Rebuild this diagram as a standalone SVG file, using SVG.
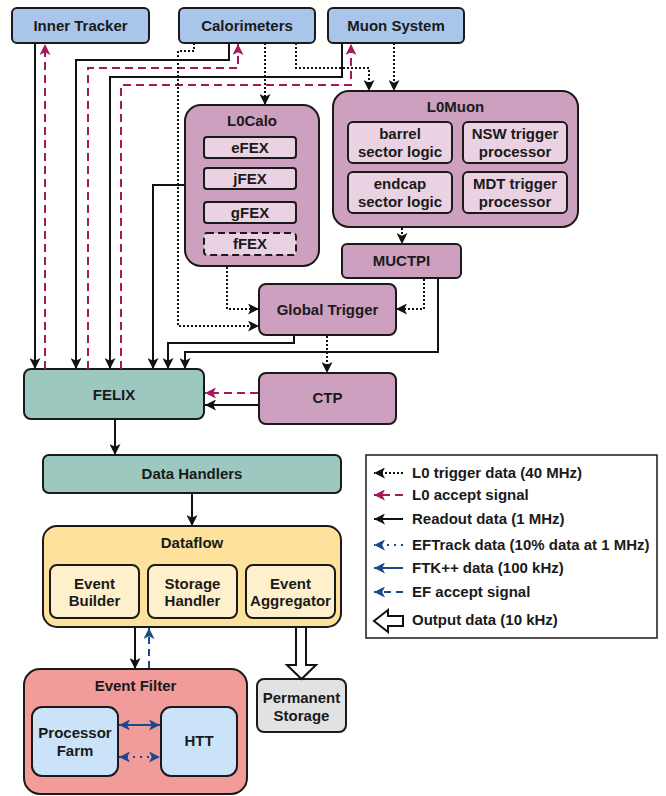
<svg xmlns="http://www.w3.org/2000/svg" width="666" height="796" viewBox="0 0 666 796">
<defs>
<style>
text{font-family:"Liberation Sans",Arial,sans-serif;font-weight:bold;font-size:15px;fill:#1a1a1a;text-anchor:middle}
.lg text{text-anchor:start}
.box{stroke:#1a1a1a;stroke-width:2}
.det{fill:#a9c5ea}
.pur{fill:#cda0c0}
.sub{fill:#ead2e2}
.teal{fill:#9cc8c0}
.yel{fill:#fee29c}
.ysub{fill:#fff0cc}
.red{fill:#f29b9b}
.lb{fill:#cae3f9}
.gray{fill:#e2e2e2}
.c{fill:none;stroke-width:2}
.k{stroke:#111}
.dot{stroke-dasharray:2 2}
.acc{stroke:#a3195b;stroke-dasharray:8 5}
.bl{stroke:#1b4a8a}
.bdot{stroke:#1b4a8a;stroke-dasharray:2 5}
.bdash{stroke:#1b4a8a;stroke-dasharray:7 5}
</style>
<marker id="ak" viewBox="0 0 10 10" refX="10" refY="5" markerWidth="11" markerHeight="11" markerUnits="userSpaceOnUse" orient="auto-start-reverse"><path d="M0,0 L10,5 L0,10 L2.5,5 Z" fill="#111"/></marker>
<marker id="ar" viewBox="0 0 10 10" refX="10" refY="5" markerWidth="11" markerHeight="11" markerUnits="userSpaceOnUse" orient="auto-start-reverse"><path d="M0,0 L10,5 L0,10 L2.5,5 Z" fill="#a3195b"/></marker>
<marker id="ab" viewBox="0 0 10 10" refX="10" refY="5" markerWidth="11" markerHeight="11" markerUnits="userSpaceOnUse" orient="auto-start-reverse"><path d="M0,0 L10,5 L0,10 L2.5,5 Z" fill="#1b4a8a"/></marker>
</defs>
<rect width="666" height="796" fill="#fff"/>

<g id="inner-tracker"><rect class="box det" x="12" y="8" width="137" height="35" rx="5"/><text x="80.5" y="31">Inner Tracker</text></g>
<g id="calorimeters"><rect class="box det" x="179" y="8" width="136" height="35" rx="5"/><text x="247" y="31">Calorimeters</text></g>
<g id="muon-system"><rect class="box det" x="328" y="8" width="136" height="35" rx="5"/><text x="396" y="31">Muon System</text></g>

<g id="l0calo"><rect class="box pur" x="185" y="105" width="134" height="161" rx="16"/><text x="252" y="126">L0Calo</text>
<rect class="box sub" x="204" y="137" width="92" height="21" rx="3"/><text x="250" y="153">eFEX</text>
<rect class="box sub" x="204" y="168" width="92" height="21" rx="3"/><text x="250" y="184">jFEX</text>
<rect class="box sub" x="204" y="202" width="92" height="21" rx="3"/><text x="250" y="218">gFEX</text>
<rect class="box sub" x="204" y="233" width="92" height="22" rx="3" stroke-dasharray="7 4"/><text x="250" y="249">fFEX</text></g>

<g id="l0muon"><rect class="box pur" x="333" y="91" width="245" height="136" rx="16"/><text x="455.5" y="112">L0Muon</text>
<rect class="box sub" x="348" y="122" width="104" height="41" rx="5"/><text x="400" y="138.5">barrel</text><text x="400" y="156.5">sector logic</text>
<rect class="box sub" x="463" y="122" width="104" height="41" rx="5"/><text x="515" y="138.5">NSW trigger</text><text x="515" y="156.5">processor</text>
<rect class="box sub" x="348" y="172" width="104" height="41" rx="5"/><text x="400" y="188.5">endcap</text><text x="400" y="206.5">sector logic</text>
<rect class="box sub" x="463" y="172" width="104" height="41" rx="5"/><text x="515" y="188.5">MDT trigger</text><text x="515" y="206.5">processor</text></g>

<g id="muctpi"><rect class="box pur" x="342" y="244" width="119" height="34" rx="5"/><text x="401.5" y="266">MUCTPI</text></g>
<g id="global-trigger"><rect class="box pur" x="259" y="284" width="137" height="51" rx="7"/><text x="327.5" y="314.5">Global Trigger</text></g>
<g id="ctp"><rect class="box pur" x="259" y="373" width="137" height="51" rx="7"/><text x="327.5" y="403">CTP</text></g>
<g id="felix"><rect class="box teal" x="24" y="369" width="180" height="50" rx="7"/><text x="114" y="399.5">FELIX</text></g>
<g id="data-handlers"><rect class="box teal" x="43" y="455" width="298" height="38" rx="6"/><text x="192" y="479">Data Handlers</text></g>

<g id="dataflow"><rect class="box yel" x="43" y="526" width="298" height="101" rx="14"/><text x="192" y="547.5">Dataflow</text>
<rect class="box ysub" x="50" y="565" width="89" height="53" rx="7"/><text x="94.5" y="588.5">Event</text><text x="94.5" y="605.5">Builder</text>
<rect class="box ysub" x="148" y="565" width="89" height="53" rx="7"/><text x="192.5" y="588.5">Storage</text><text x="192.5" y="605.5">Handler</text>
<rect class="box ysub" x="246" y="565" width="89" height="53" rx="7"/><text x="290.5" y="588.5">Event</text><text x="290.5" y="605.5">Aggregator</text></g>

<g id="event-filter"><rect class="box red" x="24" y="669" width="223" height="125" rx="16"/><text x="135.5" y="690.5">Event Filter</text>
<rect class="box lb" x="32" y="707" width="86" height="69" rx="10"/><text x="75" y="737.5">Processor</text><text x="75" y="755.5">Farm</text>
<rect class="box lb" x="161" y="707" width="76" height="69" rx="10"/><text x="199" y="746">HTT</text></g>

<g id="permanent-storage"><rect class="box gray" x="257" y="679" width="89" height="53" rx="7"/><text x="301.5" y="702.5">Permanent</text><text x="301.5" y="720.5">Storage</text></g>

<g id="connectors">
<path class="c k" d="M35,43 V369" marker-end="url(#ak)"/>
<path class="c acc" d="M45,369 V44" marker-end="url(#ar)"/>
<path class="c k" d="M229,43 V60 H76 V369" marker-end="url(#ak)"/>
<path class="c acc" d="M88,369 V68 H238 V44" marker-end="url(#ar)"/>
<path class="c k" d="M342,43 V77 H110 V369" marker-end="url(#ak)"/>
<path class="c acc" d="M121,369 V85 H351 V44" marker-end="url(#ar)"/>
<path class="c k dot" d="M194,43 V51 H178 V326 H259" marker-end="url(#ak)"/>
<path class="c k dot" d="M265,43 V105" marker-end="url(#ak)"/>
<path class="c k dot" d="M296,43 V68 H369 V91" marker-end="url(#ak)"/>
<path class="c k dot" d="M394,43 V91" marker-end="url(#ak)"/>
<path class="c k" d="M184,185 H153 V369" marker-end="url(#ak)"/>
<path class="c k dot" d="M227,267 V309 H259" marker-end="url(#ak)"/>
<path class="c k dot" d="M402,228 V244" marker-end="url(#ak)"/>
<path class="c k dot" d="M424,279 V309 H396" marker-end="url(#ak)"/>
<path class="c k" d="M294,336 V343 H168 V369" marker-end="url(#ak)"/>
<path class="c k" d="M438,279 V352 H185 V369" marker-end="url(#ak)"/>
<path class="c k dot" d="M327,336 V373" marker-end="url(#ak)"/>
<path class="c acc" d="M258,393 H205" marker-end="url(#ar)"/>
<path class="c k" d="M258,405 H205" marker-end="url(#ak)"/>
<path class="c k" d="M115,420 V455" marker-end="url(#ak)"/>
<path class="c k" d="M192,494 V526" marker-end="url(#ak)"/>
<path class="c k" d="M135,628 V669" marker-end="url(#ak)"/>
<path class="c bdash" d="M149,668 V628" marker-end="url(#ab)"/>
<path d="M296,628 V665 H287 L301.5,679 L316,665 H306 V628" fill="#fff" stroke="#111" stroke-width="2"/>
<path class="c bl" d="M119,725 H160" marker-start="url(#ab)" marker-end="url(#ab)"/>
<path class="c bdot" d="M119,757 H160" marker-start="url(#ab)" marker-end="url(#ab)"/>
</g>

<g id="legend" class="lg">
<rect x="366" y="455" width="291" height="183" fill="#fff" stroke="#1a1a1a" stroke-width="1.5"/>
<path class="c k dot" d="M403,473 H374" marker-end="url(#ak)"/><text x="412" y="478">L0 trigger data (40 MHz)</text>
<path class="c acc" d="M403,495 H374" marker-end="url(#ar)"/><text x="412" y="500">L0 accept signal</text>
<path class="c k" d="M403,519 H374" marker-end="url(#ak)"/><text x="412" y="524">Readout data (1 MHz)</text>
<path class="c bdot" d="M403,545 H374" marker-end="url(#ab)"/><text x="412" y="550">EFTrack data (10% data at 1 MHz)</text>
<path class="c bl" d="M403,568 H374" marker-end="url(#ab)"/><text x="412" y="573">FTK++ data (100 kHz)</text>
<path class="c bdash" d="M403,592 H374" marker-end="url(#ab)"/><text x="412" y="597">EF accept signal</text>
<path d="M403,616 H388 V610 L374,621 L388,632 V626 H403 Z" fill="#fff" stroke="#111" stroke-width="2"/><text x="412" y="625">Output data (10 kHz)</text>
</g>
</svg>
